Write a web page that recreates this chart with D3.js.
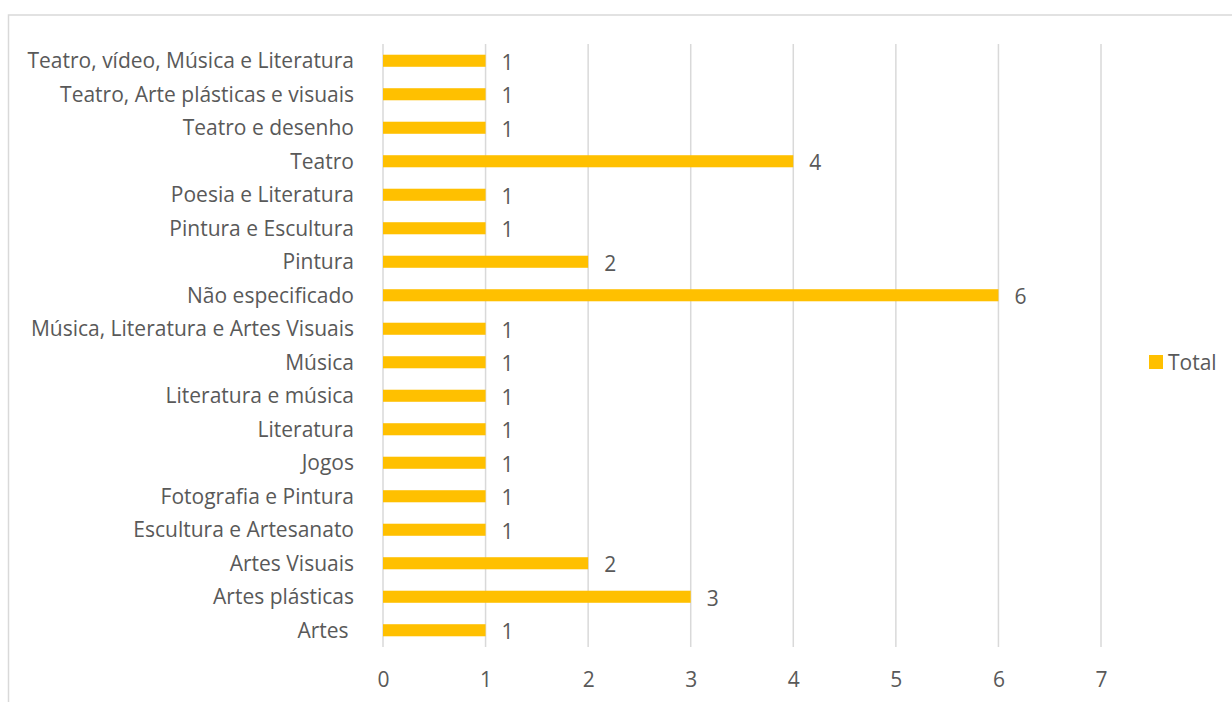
<!DOCTYPE html>
<html>
<head>
<meta charset="utf-8">
<script src="https://cdn.jsdelivr.net/npm/d3@7"></script>
<style>
  body { margin: 0; background: #fff; }
  svg { display: block; font-family: "Open Sans", Lato, sans-serif; }
</style>
</head>
<body>
<svg id="chart"></svg>
<script>
// categories listed top to bottom
let categories = [
    "Teatro, vídeo, Música e Literatura",
    "Teatro, Arte plásticas e visuais",
    "Teatro e desenho",
    "Teatro",
    "Poesia e Literatura",
    "Pintura e Escultura",
    "Pintura",
    "Não especificado",
    "Música, Literatura e Artes Visuais",
    "Música",
    "Literatura e música",
    "Literatura",
    "Jogos",
    "Fotografia e Pintura",
    "Escultura e Artesanato",
    "Artes Visuais",
    "Artes plásticas",
    "Artes "
];
let totals = [1, 1, 1, 4, 1, 1, 2, 6, 1, 1, 1, 1, 1, 1, 1, 2, 3, 1];
let xTicks = [0, 1, 2, 3, 4, 5, 6, 7];
let seriesName = "Total";

let color = "#ffc000";
let textColor = "#595959";
let gridColor = "#d9d9d9";
let fontSize = "21px";

let W = 1232, H = 702;
let margin = {top: 44, left: 383, right: 131, bottom: 55};
let width = W - margin.left - margin.right,
    height = H - margin.top - margin.bottom;

let svg = d3.select("#chart")
    .attr("width", W)
    .attr("height", H);

// chart border
svg.append("rect")
    .attr("x", 8.5)
    .attr("y", 15)
    .attr("width", W + 20)
    .attr("height", H + 20)
    .attr("fill", "none")
    .attr("stroke", gridColor)
    .attr("stroke-width", 1.5);

let g = svg.append("g")
    .attr("transform", "translate(" + margin.left + "," + margin.top + ")");

let x = d3.scaleLinear()
    .domain([0, d3.max(xTicks)])
    .range([0, width]);

let y = d3.scaleBand()
    .domain(categories)
    .range([0, height])
    .paddingInner(0.64)
    .paddingOuter(0.32);

// vertical gridlines
g.selectAll(".grid")
    .data(xTicks)
    .enter().append("line")
    .attr("class", "grid")
    .attr("x1", d => x(d))
    .attr("x2", d => x(d))
    .attr("y1", 0)
    .attr("y2", height)
    .attr("stroke", gridColor)
    .attr("stroke-width", 1.5);

// x tick labels
let xAxis = d3.axisBottom(x).tickValues(xTicks).tickFormat(d3.format("d")).tickSize(0).tickPadding(25);
let xg = g.append("g")
    .attr("transform", "translate(0," + height + ")")
    .call(xAxis);
xg.select(".domain").remove();
xg.selectAll("text")
    .attr("fill", textColor)
    .style("font-size", fontSize)
    .style("font-family", "'Open Sans', Lato, sans-serif");

// category labels
let yAxis = d3.axisLeft(y).tickSize(0).tickPadding(29);
let yg = g.append("g").call(yAxis);
yg.select(".domain").remove();
yg.selectAll("text")
    .attr("fill", textColor)
    .attr("dy", "0.35em")
    .style("white-space", "pre")
    .style("font-size", fontSize)
    .style("font-family", "'Open Sans', Lato, sans-serif");

// bars
g.selectAll(".bar")
    .data(totals)
    .enter().append("rect")
    .attr("class", "bar")
    .attr("x", 0)
    .attr("y", (d, i) => y(categories[i]))
    .attr("width", d => x(d))
    .attr("height", y.bandwidth())
    .attr("fill", color);

// value labels
g.selectAll(".val")
    .data(totals)
    .enter().append("text")
    .attr("class", "val")
    .attr("x", d => x(d) + 16)
    .attr("y", (d, i) => y(categories[i]) + y.bandwidth() / 2)
    .attr("dy", "0.42em")
    .attr("fill", textColor)
    .style("font-size", fontSize)
    .text(d => d);

// legend
let legend = svg.append("g")
    .attr("transform", "translate(1149,355)");
legend.append("rect")
    .attr("width", 14)
    .attr("height", 14)
    .attr("fill", color);
legend.append("text")
    .attr("x", 19)
    .attr("y", 7)
    .attr("dy", "0.36em")
    .attr("fill", textColor)
    .style("font-size", fontSize)
    .text(seriesName);
</script>
</body>
</html>
